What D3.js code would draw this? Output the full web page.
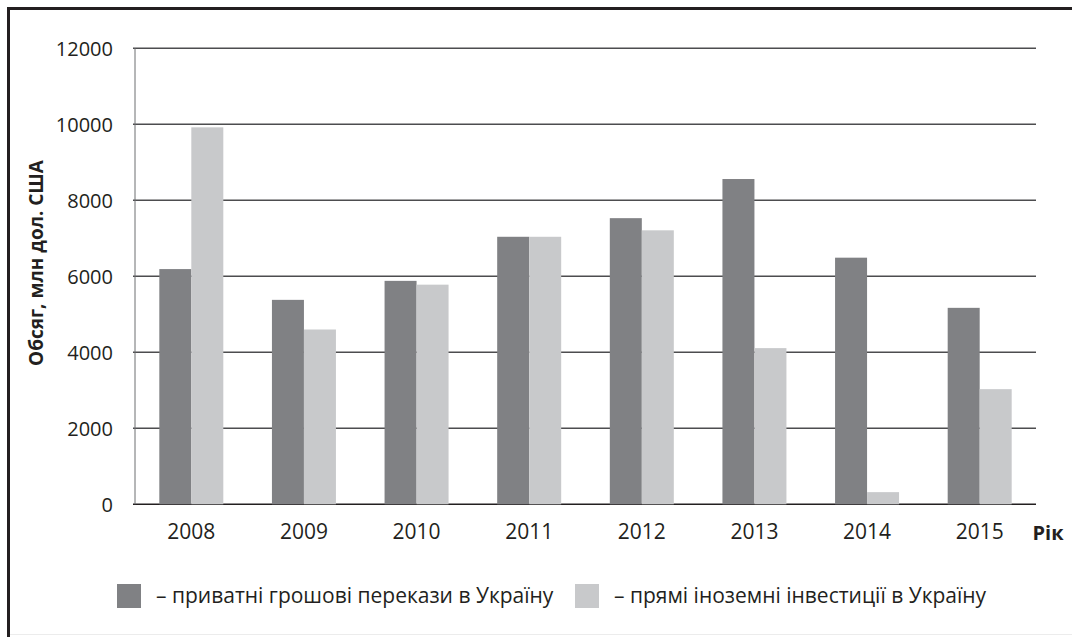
<!DOCTYPE html>
<html lang="uk">
<head>
<meta charset="utf-8">
<title>Обсяг переказів та інвестицій</title>
<script src="https://cdn.jsdelivr.net/npm/d3@7"></script>
<style>
  html, body { margin: 0; padding: 0; background: #fff; }
  svg { display: block; font-family: "Open Sans", sans-serif; }
</style>
</head>
<body>
<svg id="chart"></svg>
<script>
const years = ["2008", "2009", "2010", "2011", "2012", "2013", "2014", "2015"]
const remittances = [6190, 5380, 5880, 7040, 7530, 8560, 6490, 5170]
const fdi = [9920, 4600, 5780, 7040, 7210, 4110, 320, 3030]
const yTicks = [0, 2000, 4000, 6000, 8000, 10000, 12000]
const seriesNames = ["– приватні грошові перекази в Україну", "– прямі іноземні інвестиції в Україну"]
const seriesColors = ["#808184", "#c8c9cb"]

const width = 1072
const height = 637
const margin = {top: 48, right: 36, bottom: 133, left: 135}

const svg = d3.select("#chart")
    .attr("width", width)
    .attr("height", height)

// frame
svg.append("path")
    .attr("d", `M8.5,${height} V8.5 H${width}`)
    .attr("fill", "none")
    .attr("stroke", "#231f20")
    .attr("stroke-width", 3)
svg.append("line")
    .attr("x1", 10).attr("x2", width)
    .attr("y1", 634.5).attr("y2", 634.5)
    .attr("stroke", "#ececec")

const x = d3.scaleBand()
    .domain(years)
    .range([margin.left, width - margin.right])

const inner = d3.scaleBand()
    .domain([0, 1])
    .range([0, 64])

const y = d3.scaleLinear()
    .domain([0, 12000])
    .range([height - margin.bottom + 0.3, margin.top + 0.3])

// grid
svg.append("g")
    .selectAll("line")
    .data(yTicks)
    .join("line")
    .attr("x1", margin.left - 2)
    .attr("x2", width - margin.right)
    .attr("y1", d => y(d))
    .attr("y2", d => y(d))
    .attr("stroke", d => d === 0 ? "#231f20" : "#4d4d4f")
    .attr("stroke-width", 1.6)

// y axis line
svg.append("line")
    .attr("x1", margin.left).attr("x2", margin.left)
    .attr("y1", y(12000)).attr("y2", y(0))
    .attr("stroke", "#6d6e71")
    .attr("stroke-width", 1)

// bars
const data = years.map((yr, i) => ({year: yr, values: [remittances[i], fdi[i]]}))

svg.append("g")
    .selectAll("g")
    .data(data)
    .join("g")
    .attr("transform", d => `translate(${x(d.year) + x.bandwidth() / 2 - 32},0)`)
    .selectAll("rect")
    .data(d => d.values.map((v, k) => ({k, v})))
    .join("rect")
    .attr("x", d => inner(d.k))
    .attr("width", inner.bandwidth())
    .attr("y", d => y(d.v))
    .attr("height", d => y(0) - y(d.v))
    .attr("fill", d => seriesColors[d.k])

// y tick labels
svg.append("g")
    .attr("text-anchor", "end")
    .attr("font-size", 20)
    .attr("fill", "#231f20")
    .selectAll("text")
    .data(yTicks)
    .join("text")
    .attr("x", margin.left - 22)
    .attr("y", d => y(d))
    .attr("dy", "0.36em")
    .text(d => d)

// x tick labels
svg.append("g")
    .attr("text-anchor", "middle")
    .attr("font-size", 21)
    .attr("fill", "#231f20")
    .selectAll("text")
    .data(years)
    .join("text")
    .attr("x", d => x(d) + x.bandwidth() / 2)
    .attr("y", 539)
    .text(d => d)

// axis titles
svg.append("text")
    .attr("x", 1048)
    .attr("y", 540)
    .attr("text-anchor", "middle")
    .attr("font-size", 20)
    .attr("font-weight", "bold")
    .attr("fill", "#231f20")
    .text("Рік")

svg.append("text")
    .attr("transform", "translate(43,263) rotate(-90)")
    .attr("text-anchor", "middle")
    .attr("font-size", 19)
    .attr("font-weight", "bold")
    .attr("fill", "#231f20")
    .text("Обсяг, млн дол. США")

// legend
const legendX = [117, 575]
const legend = svg.append("g")
    .selectAll("g")
    .data(seriesNames)
    .join("g")
    .attr("transform", (d, i) => `translate(${legendX[i]},584)`)
legend.append("rect")
    .attr("width", 24)
    .attr("height", 24)
    .attr("fill", (d, i) => seriesColors[i])
legend.append("text")
    .attr("x", 39)
    .attr("y", 19)
    .attr("font-size", 21)
    .attr("fill", "#231f20")
    .text(d => d)
</script>
</body>
</html>
